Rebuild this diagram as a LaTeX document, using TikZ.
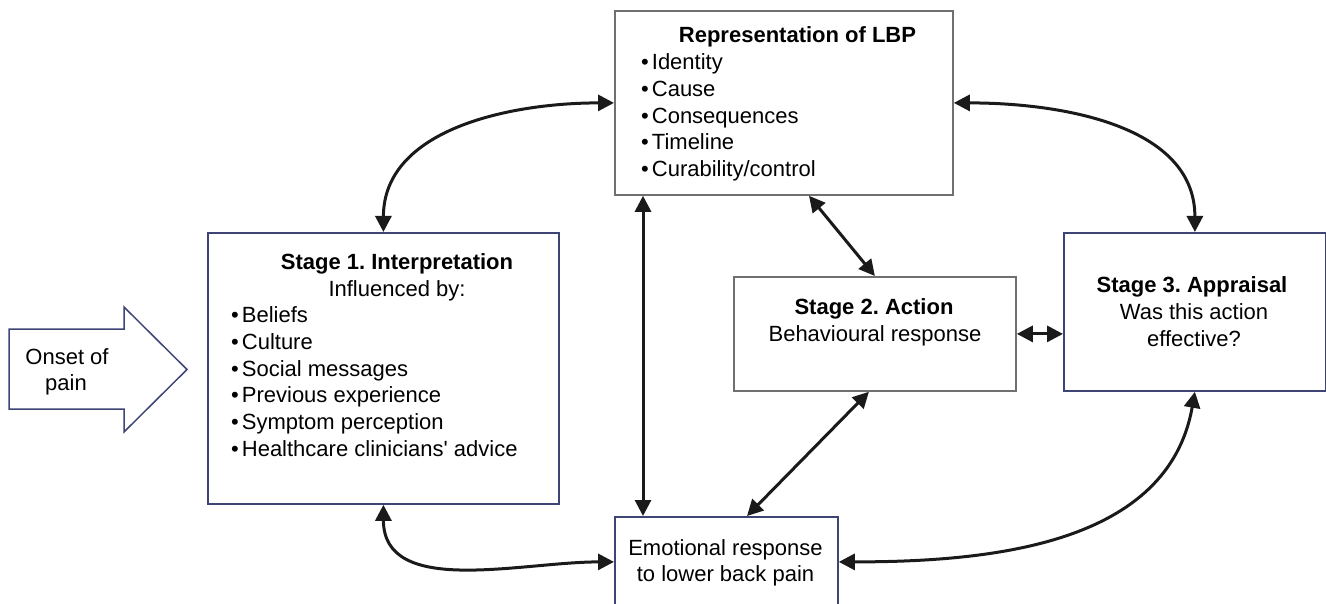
\documentclass[tikz,border=0pt]{standalone}
\usepackage{fontspec}
\setmainfont{Liberation Sans}
\usetikzlibrary{arrows.meta}
\definecolor{boxgray}{RGB}{112,112,112}
\definecolor{boxnavy}{RGB}{62,68,118}
\definecolor{ink}{RGB}{26,26,26}
\frenchspacing
\tikzset{
  graybox/.style={draw=boxgray, line width=1.8pt, fill=white, inner sep=0pt, anchor=north west},
  navybox/.style={draw=boxnavy, line width=1.8pt, fill=white, inner sep=0pt, anchor=north west},
  txt/.style={inner sep=0pt, font=\fontsize{22}{26.6}\selectfont, text=black},
  ttl/.style={txt, font=\fontsize{22}{26.6}\selectfont\bfseries, anchor=base},
  ctr/.style={txt, anchor=base},
  item/.style={txt, anchor=base west},
  conn/.style={draw=ink, line width=3pt,
    {Triangle[length=16pt,width=16pt]}-{Triangle[length=16pt,width=16pt]}},
}
\newcommand{\bul}{\textbullet\hspace{3pt}}
\begin{document}
\begin{tikzpicture}[x=1pt,y=-1pt]
\useasboundingbox (0,0) rectangle (1326,604);

% boxes
\node[graybox, minimum width=338pt, minimum height=184pt] (rep) at (614,10) {};
\node[navybox, minimum width=351pt, minimum height=271pt] (s1) at (207,232) {};
\node[graybox, minimum width=282pt, minimum height=114pt] (s2) at (733,276) {};
\node[navybox, minimum width=262pt, minimum height=158pt] (s3) at (1063,232) {};
\node[navybox, minimum width=223pt, minimum height=90pt] (emo) at (614,516) {};

% onset block arrow
\draw[draw=boxnavy, line width=1.5pt, fill=white]
  (9,329) -- (124,329) -- (124,307) -- (187,369.5) -- (124,432) -- (124,409) -- (9,409) -- cycle;
\node[ctr] (on1) at (67,364) {Onset of};
\node[ctr] (on2) at (66,390) {pain};

% representation text
\node[ttl] (repT) at (797.5,43) {Representation of LBP};
\foreach \t [count=\i] in {Identity,Cause,Consequences,Timeline,Curability/control}
  \node[item] (rep\i) at (641,{70+26.6*(\i-1)}) {\bul\t};

% stage 1 text
\node[ttl] (s1T) at (397,270) {Stage 1. Interpretation};
\node[ctr] (s1S) at (397,296.5) {Influenced by:};
\foreach \t [count=\i] in {Beliefs,Culture,Social messages,Previous experience,Symptom perception,Healthcare clinicians\textquotesingle\ advice}
  \node[item] (s1\i) at (231,{323+26.6*(\i-1)}) {\bul\t};

% stage 2 text
\node[ttl] (s2T) at (874,315) {Stage 2. Action};
\node[ctr] (s2S) at (875,341.5) {Behavioural response};

% stage 3 text
\node[ttl] (s3T) at (1192,293) {Stage 3. Appraisal};
\node[ctr] (s3S) at (1194,319.5) {Was this action};
\node[ctr] (s3U) at (1194,346) {effective?};

% emotional response text
\node[ctr] (emT) at (725.5,555) {Emotional response};
\node[ctr] (emU) at (725.5,581.5) {to lower back pain};

% connectors
\draw[conn] (rep.west) to[out=180,in=90] (s1.north);
\draw[conn] (rep.east) to[out=0,in=90] (s3.north);
\draw[conn] ([xshift=29pt]rep.south west) -- ([xshift=29pt]emo.north west);
\draw[conn] ([xshift=195pt]rep.south west) -- (s2.north);
\draw[conn] ([xshift=-6pt]s2.south) -- ([xshift=133pt]emo.north west);
\draw[conn] (s2.east) -- (s2.east -| s3.west);
\draw[conn] (s1.south) to[out=-90,in=180] (emo.west);
\draw[conn] (s3.south) to[out=-100,in=0] (emo.east);
\end{tikzpicture}
\end{document}
